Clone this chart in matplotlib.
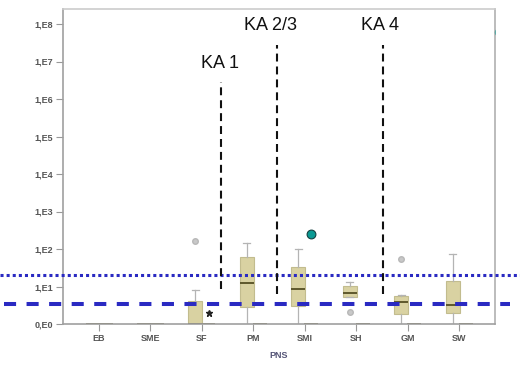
import matplotlib as mpl

mpl.use("Agg")

import matplotlib.pyplot as plt

IMAGE_DPI = 100.0

# data (log10 units, 0 = 0,E0)
categories = ["EB", "SME", "SF", "PM", "SMI", "SH", "GM", "SW"]
q1 = [0.0, 0.0, 0.0, 0.45, 0.48, 0.72, 0.27, 0.29]
median = [0.0, 0.0, 0.0, 1.09, 0.93, 0.83, 0.59, 0.51]
q3 = [0.0, 0.0, 0.61, 1.79, 1.52, 1.01, 0.75, 1.15]
whis_lo = [0.0, 0.0, 0.0, 0.0, 0.0, 0.72, 0.0, 0.0]
whis_hi = [0.0, 0.0, 0.91, 2.16, 2.0, 1.12, 0.78, 1.87]
outliers = [[], [], [2.21], [], [], [0.32], [1.73], []]
extremes_b = [[], [], [0.29], [], [], [], [], []]

y_tick_labels = ["0,E0", "1,E1", "1,E2", "1,E3", "1,E4", "1,E5", "1,E6", "1,E7", "1,E8"]

teal_point = (5.13, 2.4)

dotted_level = 1.31
dashed_level = 0.53

ka_labels = ["KA 1", "KA 2/3", "KA 4"]
ka_x = [3.38, 4.47, 6.53]
ka_top = [6.45, 7.44, 7.44]
ka_bottom = [0.93, 0.8, 0.8]
ka_text_x = [3.35, 4.33, 6.47]
ka_text_y = [6.95, 7.95, 7.95]

pos = list(range(1, len(categories) + 1))

fig = plt.figure(figsize=(520 / IMAGE_DPI, 368 / IMAGE_DPI), dpi=IMAGE_DPI)
ax = fig.add_axes([63 / 520, 44 / 368, 432 / 520, 315 / 368])

stats_a = [
    {"q1": a, "med": m, "q3": b, "whislo": lo, "whishi": hi, "fliers": f}
    for a, m, b, lo, hi, f in zip(q1, median, q3, whis_lo, whis_hi, outliers)
]
stats_b = [
    {"q1": 0.0, "med": 0.0, "q3": 0.0, "whislo": 0.0, "whishi": 0.0, "fliers": f}
    for f in extremes_b
]

box_kw = dict(
    widths=0.27,
    patch_artist=True,
    boxprops=dict(facecolor="#d9d2a2", edgecolor="#c2bc8e", linewidth=0.8),
    medianprops=dict(color="#5e582c", linewidth=1.4),
    whiskerprops=dict(color="#b4b4b4", linewidth=0.9),
    capprops=dict(color="#b4b4b4", linewidth=0.9),
)

ax.bxp(
    stats_a,
    positions=[p - 0.125 for p in pos],
    flierprops=dict(marker="o", markersize=4, markerfacecolor="#c8c8c8", markeredgecolor="#b8b8b8"),
    **box_kw,
)
ax.bxp(
    stats_b,
    positions=[p + 0.13 for p in pos],
    flierprops=dict(marker="*", markersize=5, markerfacecolor="#222222", markeredgecolor="#222222"),
    **box_kw,
)

ax.scatter(*teal_point, s=40, color="#0a9a94", edgecolor="#124040", linewidth=0.8, zorder=5)
ax.scatter(8.76, 7.8, s=30, color="#5fa9a4", linewidth=0, zorder=5)

ax.axhline(dotted_level, xmin=-0.146, xmax=1.06, clip_on=False, color="#2a2ac2",
           linewidth=2.2, linestyle=(0, (1.0, 1.0)), zorder=6)
ax.axhline(dashed_level, xmin=-0.137, xmax=1.035, clip_on=False, color="#2a2ac2",
           linewidth=2.9, linestyle=(0, (3.0, 2.6)), zorder=6)

for x, top, bottom in zip(ka_x, ka_top, ka_bottom):
    ax.plot([x, x], [bottom, top], color="#111111", linewidth=1.5,
            linestyle=(0, (3.8, 2.4)), zorder=6)

for label, x, y in zip(ka_labels, ka_text_x, ka_text_y):
    ax.text(x, y, label, ha="center", va="center", fontsize=13,
            family="Liberation Sans", color="#111111")

ax.set_xlim(0.3, 8.7)
ax.set_ylim(0, 8.4)

ax.set_xticks(pos)
ax.set_xticklabels(categories)
ax.set_yticks(range(len(y_tick_labels)))
ax.set_yticklabels(y_tick_labels)

for label in ax.get_xticklabels() + ax.get_yticklabels():
    label.set_fontsize(6.5)
    label.set_fontweight("bold")
    label.set_color("#555555")
    label.set_family("Liberation Sans")

ax.tick_params(axis="both", length=5, width=0.8, color="#999999", pad=2)
ax.set_xlabel("PNS", fontsize=6.5, fontweight="bold", color="#555577",
              family="Liberation Sans", labelpad=6)

ax.spines["left"].set_color("#a0a0a0")
ax.spines["bottom"].set_color("#a0a0a0")
ax.spines["top"].set_color("#cccccc")
ax.spines["right"].set_color("#b0b0b0")
for side in ["left", "bottom", "top", "right"]:
    ax.spines[side].set_linewidth(1.2)

fig.savefig("out.png", dpi=IMAGE_DPI)
plt.close(fig)
